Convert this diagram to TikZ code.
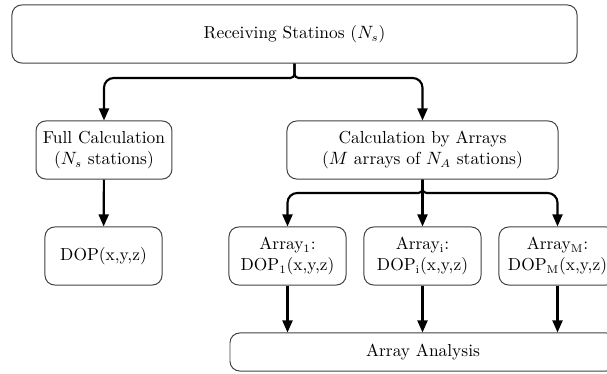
\documentclass[tikz,border=0pt]{standalone}
\usetikzlibrary{arrows.meta}
\begin{document}
\begin{tikzpicture}[x=0.615pt,y=-0.615pt,
  box/.style={draw=black!75, line width=0.6pt, rounded corners=6pt, align=center,
    inner sep=0pt, minimum height=35.7pt, font=\fontsize{10.7pt}{13pt}\selectfont},
  flow/.style={line width=1.3pt, -{Triangle[length=7.5pt,width=6.2pt]}},
]
\useasboundingbox (0,0) rectangle (607,374);

% boxes
\node[box, minimum width=347.5pt] (rx) at (294.5,34) {Receiving Statinos ($N_s$)};
\node[box, minimum width=83.6pt] (full) at (104,150) {Full Calculation\\($N_s$ stations)};
\node[box, minimum width=166.7pt] (arr) at (422.5,150) {Calculation by Arrays\\($M$ arrays of $N_A$ stations)};
\node[box, minimum width=72pt] (dop) at (103.5,256) {DOP(x,y,z)};
\node[box, minimum width=72pt] (a1) at (287.5,256) {Array$_1$:\\DOP$_1$(x,y,z)};
\node[box, minimum width=72pt] (ai) at (422.5,256) {Array$_\mathrm{i}$:\\DOP$_\mathrm{i}$(x,y,z)};
\node[box, minimum width=72pt] (am) at (557.5,256) {Array$_\mathrm{M}$:\\DOP$_\mathrm{M}$(x,y,z)};
\node[box, minimum width=237.4pt, minimum height=23.4pt] (ana) at (423,352) {Array Analysis};

% branch points of the two braces
\coordinate (b1) at (294.5,78);
\coordinate (b2) at (422.5,193);

% upper brace
\draw[flow] (rx.south) [rounded corners=2.5pt] -- (b1) [rounded corners=6pt] -| (full.north);
\draw[flow] (rx.south) [rounded corners=2.5pt] -- (b1) [rounded corners=6pt] -| (arr.north);

% lower brace
\draw[flow] (arr.south) [rounded corners=2.5pt] -- (b2) [rounded corners=6pt] -| (a1.north);
\draw[flow] (arr.south) -- (ai.north);
\draw[flow] (arr.south) [rounded corners=2.5pt] -- (b2) [rounded corners=6pt] -| (am.north);

% straight links
\draw[flow] (full) -- (dop);
\draw[flow] (a1) -- (a1 |- ana.north);
\draw[flow] (ai) -- (ai |- ana.north);
\draw[flow] (am) -- (am |- ana.north);
\end{tikzpicture}
\end{document}
